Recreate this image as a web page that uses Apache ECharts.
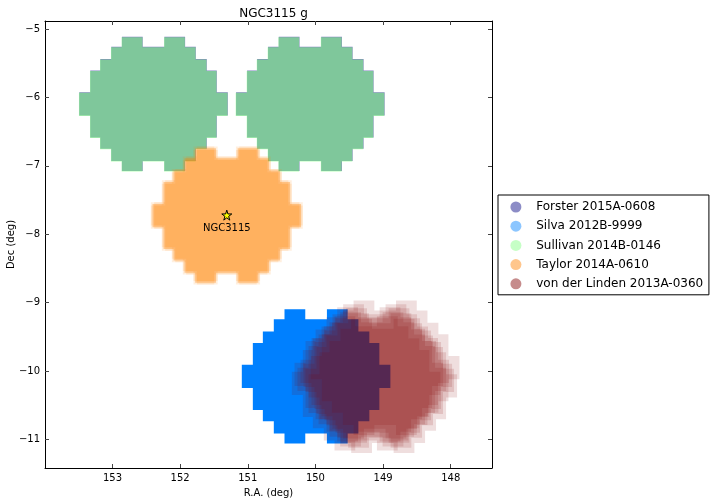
<!DOCTYPE html>
<html><head><meta charset="utf-8">
<style>html,body{margin:0;padding:0;background:#fff}#c{width:714px;height:504px}</style>
<script src="https://cdn.jsdelivr.net/npm/echarts@6/dist/echarts.min.js"></script>
</head><body><div id="c"></div>
<script>
var raTicks=[153,152,151,150,149,148];
var decTicks=[-5,-6,-7,-8,-9,-10,-11];
var programs=['Forster 2015A-0608','Silva 2012B-9999','Sullivan 2014B-0146','Taylor 2014A-0610','von der Linden 2013A-0360'];
var colors=['#000080','#0080ff','#80ff80','#ff8000','#800000'];
// each pointing: RA, Dec, number of exposures stacked there
var forster=[[152.393,-6.093,5],[150.075,-6.093,5]];
var silva=[[149.99,-10.08,60]];
var sullivan=[[152.397,-6.1,6],[150.08,-6.1,6]];
var taylor=[[151.31,-7.726,3],[151.335,-7.701,1],[151.285,-7.701,1],[151.335,-7.751,1],[151.285,-7.751,1]];
var linden=[[148.969,-9.953,1],[149.004,-10.218,1],[149.251,-10.182,1],[149.211,-10.051,1],[149.123,-10.007,1],[149.078,-10.066,1],[149.167,-10.124,1],[149.049,-10.139,1]];
var target=[151.31,-7.72];
// one quadrant of the camera footprint, degrees from its centre
var cornerDx=[0.16,0.467,0.467,0.625,0.625,0.787,0.787,0.935,0.935,1.098];
var cornerDy=[0.983,0.983,0.837,0.837,0.657,0.657,0.49,0.49,0.17,0.17];
var notchDy=0.837;
var layerAlpha=0.13;

function outline(){
  var q=cornerDx.map(function(d,i){return [d,cornerDy[i]];});
  var p=[].concat(q);
  q.slice().reverse().forEach(function(v){p.push([v[0],-v[1]]);});
  p.push([0.16,-notchDy],[-0.16,-notchDy]);
  q.forEach(function(v){p.push([-v[0],-v[1]]);});
  q.slice().reverse().forEach(function(v){p.push([-v[0],v[1]]);});
  p.push([-0.16,notchDy],[0.16,notchDy]);
  return p;
}
var shape=outline();
function series(idx,data){
  return {type:'custom',name:programs[idx],data:data,xAxisIndex:0,yAxisIndex:0,silent:true,clip:true,
    encode:{x:0,y:1},
    itemStyle:{color:colors[idx]},
    renderItem:function(params,api){
      var ra=api.value(0),dec=api.value(1),n=api.value(2);
      return {type:'polygon',shape:{points:shape.map(function(o){return api.coord([ra+o[0],dec+o[1]]);})},
        style:{fill:colors[idx],opacity:1-Math.pow(1-layerAlpha,n)}};
    }};
}
var RA={min:147.39,max:153.997},DEC={min:-11.42,max:-4.88};
var txt={fontFamily:'DejaVu Sans',color:'#000',fontSize:10};
var line={show:true,onZero:false,lineStyle:{color:'#000',width:1}};
var tickX={show:true,inside:true,length:4,customValues:raTicks,lineStyle:{color:'#444',width:1}};
var tickY={show:true,inside:true,length:4,customValues:decTicks,lineStyle:{color:'#444',width:1}};
var chart=echarts.init(document.getElementById('c'),null,{renderer:'canvas'});
chart.setOption({
  animation:false,backgroundColor:'#fff',
  title:{text:'NGC3115 g',left:268.5,top:3,textAlign:'center',textStyle:{fontFamily:'DejaVu Sans',fontSize:12,fontWeight:'normal',color:'#000'}},
  grid:{left:45,right:222,top:21,bottom:36,containLabel:false,outerBoundsMode:'none'},
  xAxis:[
    {type:'value',inverse:true,min:RA.min,max:RA.max,position:'bottom',name:'R.A. (deg)',nameLocation:'middle',nameGap:20,nameTextStyle:txt,
     axisLine:line,axisTick:tickX,splitLine:{show:false},axisLabel:Object.assign({show:true,margin:5,customValues:raTicks},txt)},
    {type:'value',inverse:true,min:RA.min,max:RA.max,position:'top',axisLine:line,axisTick:tickX,splitLine:{show:false},axisLabel:{show:false}}
  ],
  yAxis:[
    {type:'value',min:DEC.min,max:DEC.max,position:'left',name:'Dec (deg)',nameLocation:'middle',nameGap:29,nameMoveOverlap:false,nameTextStyle:txt,
     axisLine:line,axisTick:tickY,splitLine:{show:false},
     axisLabel:Object.assign({show:true,margin:5,customValues:decTicks,formatter:function(v){return String(v).replace('-','\u2212');}},txt)},
    {type:'value',min:DEC.min,max:DEC.max,position:'right',axisLine:line,axisTick:tickY,splitLine:{show:false},axisLabel:{show:false}}
  ],
  legend:{orient:'vertical',left:498,top:195,itemWidth:30.6,itemHeight:11,itemGap:4.2,padding:[4.5,5.7,3.5,12.4],
    borderColor:'#000',borderWidth:1,backgroundColor:'#fff',selectedMode:false,
    textStyle:{fontFamily:'DejaVu Sans',fontSize:12,color:'#000',lineHeight:15},
    data:programs.map(function(p,i){return {name:p,icon:'circle',itemStyle:{color:colors[i],opacity:0.45}};})},
  series:[series(0,forster),series(1,silva),series(2,sullivan),series(3,taylor),series(4,linden),
    {type:'scatter',xAxisIndex:0,yAxisIndex:0,silent:true,z:5,data:[target],symbol:'path://M50 0L61 35L98 35L68 57L79 91L50 70L21 91L32 57L2 35L39 35Z',symbolSize:10,
     itemStyle:{color:'#ffff00',borderColor:'#000',borderWidth:1,opacity:1},
     label:{show:true,position:'bottom',distance:3,formatter:'NGC3115',fontFamily:'DejaVu Sans',fontSize:10,color:'#000'}}
  ]
});
</script></body></html>
